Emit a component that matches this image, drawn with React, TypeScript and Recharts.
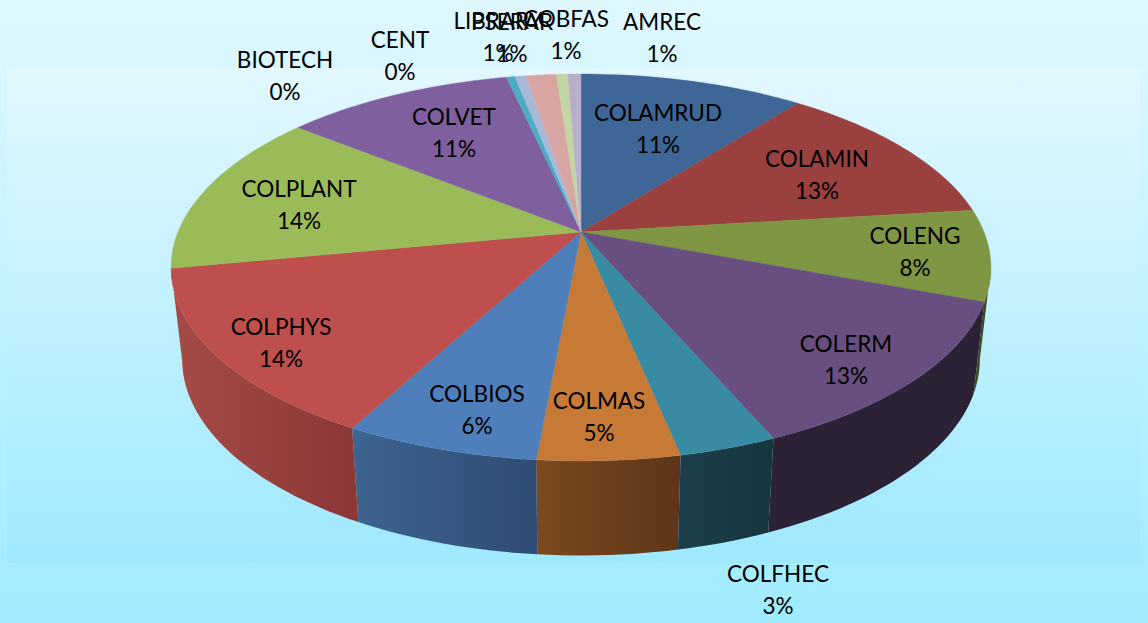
import { Pie, PieChart } from "recharts";

const WIDTH = 1148;
const HEIGHT = 623;

const names = [
  "COLAMRUD", "COLAMIN", "COLENG", "COLERM", "COLFHEC", "COLMAS", "COLBIOS", "COLPHYS",
  "COLPLANT", "COLVET", "BIOTECH", "CENT", "LIBRARY", "PSERAR", "COBFAS", "AMREC",
];
const shares = [10.55, 12.55, 7.6, 12.8, 3.25, 4.7, 6.45, 14.1, 13.7, 10.8, 0.04, 0.36, 0.52, 1.43, 0.54, 0.61];

const topColors = [
  "#3e6797", "#9a403e", "#7f9643", "#684f80", "#398aa3", "#c77a36", "#4e7fbb", "#be4f4c",
  "#9bbb59", "#7f5f9e", "#4aacc5", "#4aacc5", "#a8b9d8", "#d9a5a3", "#c3d5a3", "#b8aecb",
];
const wallLight = [
  "#2c4668", "#6b2d2b", "#3f4a20", "#2c2236", "#1c3f4b", "#7a4a1f", "#3d6490", "#a54b47",
  "#6d8340", "#59436f", "#337888", "#337888", "#76819a", "#987473", "#899573", "#817a8e",
];
const wallDark = [
  "#2c4668", "#6b2d2b", "#3f4a20", "#2c2236", "#16363f", "#5e3518", "#2f4b73", "#8b3736",
  "#6d8340", "#59436f", "#337888", "#337888", "#76819a", "#987473", "#899573", "#817a8e",
];

// hand placed in the original chart: centre of the name line
const labelSpots: Record<string, [number, number]> = {
  COLAMRUD: [658, 113], COLAMIN: [817, 159], COLENG: [915, 236], COLERM: [846, 344],
  COLFHEC: [778, 574], COLMAS: [599, 401], COLBIOS: [477, 394], COLPHYS: [281, 327],
  COLPLANT: [299, 189], COLVET: [454, 117], BIOTECH: [285, 60], CENT: [400, 40],
  LIBRARY: [498, 21], PSERAR: [512, 22], COBFAS: [566, 19], AMREC: [662, 22],
};

const rows = names.map((name, i) => ({ name, value: shares[i], idx: i }));

// perspective of the tilted disc
const TILT = 0.464;
const PERSP = 0.1834;
const WALL_SHRINK = 0.973;
const WALL_STRETCH = 1.015;
const WALL_BOTTOM_FROM = 461;
const WALL_BOTTOM_TO = 555.5;
// the wall only shows between the two widest points of the disc
const FRONT_FROM = -10.57;
const FRONT_TO = -169.43;

function project(cx: number, cy: number, r: number, deg: number): [number, number] {
  const a = (deg * Math.PI) / 180;
  const w = 1 + PERSP * Math.sin(a);
  return [cx + (r * Math.cos(a)) / w, cy - (TILT * r * Math.sin(a)) / w];
}

function lower(cx: number, p: [number, number]): [number, number] {
  return [cx + WALL_SHRINK * (p[0] - cx), WALL_BOTTOM_TO + WALL_STRETCH * (p[1] - WALL_BOTTOM_FROM)];
}

function arcPoints(cx: number, cy: number, r: number, from: number, to: number) {
  const n = Math.max(2, Math.ceil(Math.abs(to - from) / 1.5));
  const pts: [number, number][] = [];
  for (let i = 0; i <= n; i++) pts.push(project(cx, cy, r, from + ((to - from) * i) / n));
  return pts;
}

const toPath = (pts: [number, number][]) =>
  "M" + pts.map((p) => `${p[0].toFixed(2)},${p[1].toFixed(2)}`).join("L") + "Z";

function TopFace(props: any) {
  const { cx, cy, outerRadius, startAngle, endAngle, index } = props;
  const pts = arcPoints(cx, cy, outerRadius, startAngle, endAngle);
  const c = topColors[index];
  return <path d={toPath([[cx, cy], ...pts])} fill={c} stroke={c} strokeWidth={0.4} />;
}

function Wall(props: any) {
  const { cx, cy, outerRadius, startAngle, endAngle, index } = props;
  const from = Math.min(startAngle, FRONT_FROM);
  const to = Math.max(endAngle, FRONT_TO);
  if (from <= to) return null;
  const pts = arcPoints(cx, cy, outerRadius, from, to);
  const under = pts.map((p) => lower(cx, p)).reverse();
  return <path d={toPath([...pts, ...under])} fill={`url(#wall-${index})`} />;
}

function SliceLabel(props: any) {
  const { name, percent } = props;
  const spot = labelSpots[name];
  const font = { fontFamily: "Lato", fontSize: 22.5, fill: "#000", textAnchor: "middle" as const };
  return (
    <g>
      <text x={spot[0]} y={spot[1] + 8} {...font}>{name}</text>
      <text x={spot[0]} y={spot[1] + 40} {...font}>{`${Math.round(percent * 100)}%`}</text>
    </g>
  );
}

export default function App() {
  return (
    <div
      style={{
        position: "fixed", left: 0, top: 0, width: WIDTH, height: HEIGHT, overflow: "hidden",
        background: "linear-gradient(180deg, #dff8ff 0%, #a0ebff 100%)",
      }}
    >
      <div
        style={{
          position: "absolute", left: 7, top: 68, width: 1133, height: 495,
          background: "linear-gradient(180deg, #e3f8ff 0%, #9fe9ff 100%)",
        }}
      />
      <div style={{ position: "absolute", left: 0, top: 0 }}>
        <PieChart width={WIDTH} height={HEIGHT} margin={{ top: 0, right: 0, bottom: 0, left: 0 }}>
          <defs>
            {names.map((n, i) => (
              <linearGradient key={n} id={`wall-${i}`} x1="0" y1="0" x2="1" y2="0">
                <stop offset="0%" stopColor={wallLight[i]} />
                <stop offset="100%" stopColor={wallDark[i]} />
              </linearGradient>
            ))}
          </defs>
          <Pie
            data={rows}
            dataKey="value"
            nameKey="name"
            cx={581}
            cy={232}
            outerRadius={403}
            startAngle={90}
            endAngle={-270}
            stroke="none"
            shape={Wall}
            label={false}
            labelLine={false}
            isAnimationActive={false}
          />
          <Pie
            data={rows}
            dataKey="value"
            nameKey="name"
            cx={581}
            cy={232}
            outerRadius={403}
            startAngle={90}
            endAngle={-270}
            stroke="none"
            shape={TopFace}
            label={SliceLabel}
            labelLine={false}
            isAnimationActive={false}
          />
        </PieChart>
      </div>
    </div>
  );
}
